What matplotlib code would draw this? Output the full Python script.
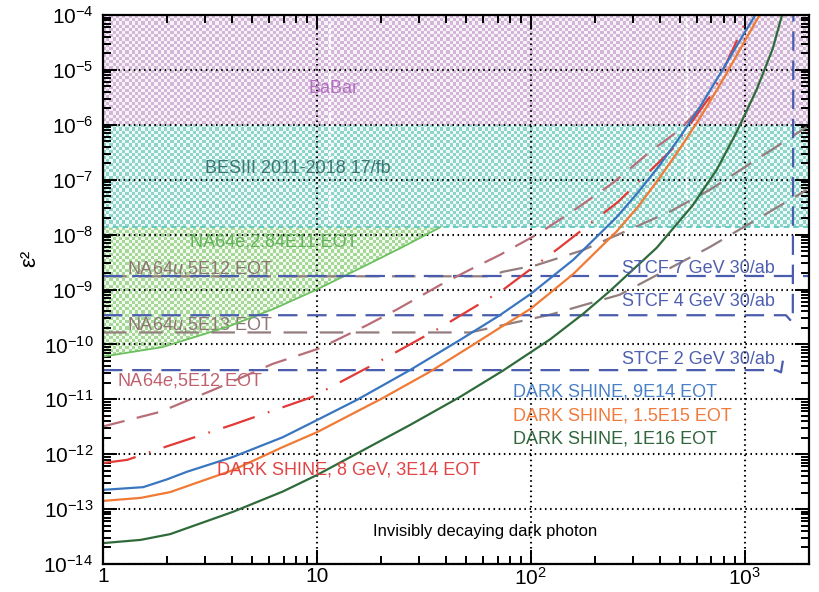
import numpy as np
import matplotlib
matplotlib.use("Agg")
import matplotlib.pyplot as plt
from matplotlib.patches import Polygon
from matplotlib.image import AxesImage
from matplotlib.colors import to_rgb
from matplotlib.ticker import LogLocator, NullFormatter, FixedLocator, FixedFormatter

plt.rcParams['font.family'] = ['Liberation Sans', 'DejaVu Sans']
plt.rcParams['mathtext.fontset'] = 'custom'
plt.rcParams['mathtext.rm'] = 'Liberation Sans'
plt.rcParams['mathtext.it'] = 'Liberation Sans:italic'
plt.rcParams['lines.scale_dashes'] = False

# ---------------- data (mass in MeV, epsilon^2) ----------------
x_min, x_max = 1, 2000
y_min, y_max = 1e-14, 1e-4

babar_lo, babar_hi = 1e-6, 1e-4
besiii_lo, besiii_hi = 1.35e-8, 1e-6
white_stripe_x = [11.5, 540]

na64e_284_x = [1, 1.89, 3.84, 6.31, 10, 15.8, 25.1, 37.6]
na64e_284_y = [6.0e-11, 8.9e-11, 2.1e-10, 4.47e-10, 1.0e-9, 2.4e-9, 5.9e-9, 1.35e-8]

ds_9e14_x = [1, 1.54, 2.0, 2.47, 4.05, 6.93, 10, 15.4, 27.2, 46.6, 71.6, 100, 158, 251, 316, 398, 501,
             631, 794, 1000, 1122]
ds_9e14_y = [2.24e-13, 2.51e-13, 3.5e-13, 4.79e-13, 8.91e-13, 2.04e-12, 4.17e-12, 9.77e-12, 3.39e-11,
             1.20e-10, 3.39e-10, 8.32e-10, 3.47e-9, 2.04e-8, 5.75e-8, 1.78e-7, 6.17e-7, 2.40e-6,
             1.05e-5, 4.79e-5, 1e-4]

ds_15e15_x = [1, 1.5, 2.06, 4.05, 6.93, 10, 20.3, 33.7, 53.6, 71.6, 100, 158, 251, 316, 398, 501, 631,
              794, 1000, 1175]
ds_15e15_y = [1.41e-13, 1.6e-13, 2.04e-13, 5.13e-13, 1.35e-12, 2.51e-12, 1.05e-11, 3.16e-11, 9.77e-11,
              2.0e-10, 4.47e-10, 1.91e-9, 1.12e-8, 3.16e-8, 1.05e-7, 3.80e-7, 1.51e-6, 6.76e-6,
              3.31e-5, 1e-4]

ds_1e16_x = [1, 1.5, 2.06, 4.05, 6.93, 10, 27.2, 46.6, 74, 123, 175, 234, 388, 571, 740, 918, 1138,
             1352, 1496]
ds_1e16_y = [2.4e-14, 2.75e-14, 3.5e-14, 8.91e-14, 2.09e-13, 4.17e-13, 3.39e-12, 1.10e-11, 3.31e-11,
             1.23e-10, 3.55e-10, 9.33e-10, 5.75e-9, 3.39e-8, 1.51e-7, 7.41e-7, 4.37e-6, 2.40e-5, 1e-4]

ds_8gev_x = [1, 1.3, 2, 4, 9.5, 19, 37.6, 74, 137, 255, 456, 708, 1020, 1060]
ds_8gev_y = [6.9e-13, 7.9e-13, 1.4e-12, 3.4e-12, 1.1e-11, 4.6e-11, 2.0e-10, 9.8e-10, 5.9e-9, 3.9e-8,
             3.5e-7, 3.8e-6, 8.1e-5, 1e-4]

na64e_5e12_x = [1, 1.85, 3.3, 6.2, 10.3, 17, 23.6, 37.6, 52, 72, 110, 164, 242, 360, 497, 686]
na64e_5e12_y = [3.2e-12, 5.9e-12, 1.5e-11, 4.4e-11, 8.5e-11, 2.2e-10, 4.3e-10, 1.2e-9, 2.3e-9, 4.3e-9,
                1.07e-8, 3.0e-8, 8.7e-8, 3.2e-7, 8.1e-7, 3.1e-6]

na64mu_5e12_x = [1, 64, 74, 107, 175, 446, 616, 686, 1950]
na64mu_5e12_y = [1.74e-9, 1.74e-9, 2.1e-9, 2.8e-9, 5.2e-9, 2.6e-8, 5.2e-8, 6.5e-8, 9.1e-7]

na64mu_5e13_x = [1, 52, 124, 260, 686, 1950]
na64mu_5e13_y = [1.65e-10, 1.65e-10, 3.5e-10, 8.0e-10, 5.9e-9, 6.5e-8]

stcf7_x = [1, 2000]
stcf7_y = [1.74e-9, 1.74e-9]
stcf4_x = [1, 1560, 1660, 1680, 1690]
stcf4_y = [3.4e-10, 3.4e-10, 2.6e-10, 3.4e-10, 1e-4]
stcf2_x = [1, 1400, 1480, 1530]
stcf2_y = [3.4e-11, 3.4e-11, 3.1e-11, 7e-11]

x_ticks = [1, 10, 100, 1000]
x_ticklabels = ['1', '10', '$10^{2}$', '$10^{3}$']
y_ticks = [1e-14, 1e-13, 1e-12, 1e-11, 1e-10, 1e-9, 1e-8, 1e-7, 1e-6, 1e-5, 1e-4]
y_ticklabels = ['$10^{-%d}$' % k for k in range(14, 3, -1)]

# ---------------- figure ----------------
W, H = 819, 592
fig = plt.figure(figsize=(W / 100, H / 100), dpi=100)
ax = fig.add_axes([103 / W, 28 / H, 706 / W, 549 / H])
ax.set_xscale('log')
ax.set_yscale('log')
ax.set_autoscale_on(False)
ax.set_xlim(x_min, x_max)
ax.set_ylim(y_min, y_max)


def checker(px, py, c1, c2, cell=3.2, z=0.5):
    nx, ny = int(706 / cell), int(549 / cell)
    ii, jj = np.indices((ny, nx))
    m = (ii + jj) % 2 == 0
    img = np.empty((ny, nx, 3))
    img[m] = to_rgb(c1)
    img[~m] = to_rgb(c2)
    im = AxesImage(ax, interpolation='nearest', extent=(0, 1, 0, 1), zorder=z)
    im.set_data(img)
    im.set_transform(ax.transAxes)
    ax.add_image(im)
    poly = Polygon(np.column_stack([px, py]), closed=True, transform=ax.transData)
    im.set_clip_path(poly)


checker([x_min, x_max, x_max, x_min], [babar_lo, babar_lo, babar_hi, babar_hi], '#d2b6d8', '#f8f2f8')
checker([x_min, x_max, x_max, x_min], [besiii_lo, besiii_lo, besiii_hi, besiii_hi], '#8dd5ca', '#f0faf8')
checker(list(na64e_284_x) + [x_min], list(na64e_284_y) + [besiii_lo], '#a5d896', '#f3fbf0')

for xs in white_stripe_x:
    ax.plot([xs, xs], [besiii_lo, babar_hi], color='white', lw=1.6, dashes=(2.5, 1.5), zorder=0.8)

ax.plot([x_min, x_max], [besiii_lo, besiii_lo], color='#5fc8c0', lw=1.3, dashes=(4, 3), zorder=2)
ax.plot(na64e_284_x, na64e_284_y, color='#6cc060', lw=1.3, zorder=2)

# grid
ax.set_axisbelow('line')
ax.grid(True, which='major', color='black', linestyle=(0, (1.1, 2.6)), linewidth=1.5)

# curves
ax.plot(stcf7_x, stcf7_y, color='#4a5cae', lw=1.6, dashes=(14, 7), zorder=2.2)
ax.plot(stcf4_x, stcf4_y, color='#4a5cae', lw=1.6, dashes=(14, 7), zorder=2.2)
ax.plot(stcf2_x, stcf2_y, color='#4a5cae', lw=1.6, dashes=(14, 7), zorder=2.2)

ax.plot(na64mu_5e12_x, na64mu_5e12_y, color='#937d7d', lw=1.6, dashes=(17, 9), zorder=2.1)
ax.plot(na64mu_5e13_x, na64mu_5e13_y, color='#937d7d', lw=1.6, dashes=(17, 9), zorder=2.1)
ax.plot(na64e_5e12_x, na64e_5e12_y, color='#b86e78', lw=1.6, dashes=(16, 9), zorder=2.3)
ax.plot(ds_8gev_x, ds_8gev_y, color='#e23a36', lw=1.6, dashes=(24, 10, 1.2, 10), zorder=2.4)

ax.plot(ds_9e14_x, ds_9e14_y, color='#3a76c0', lw=1.6, zorder=2.5)
ax.plot(ds_15e15_x, ds_15e15_y, color='#f07a35', lw=1.6, zorder=2.5)
ax.plot(ds_1e16_x, ds_1e16_y, color='#2f6b3a', lw=1.6, zorder=2.5)

# labels
fs = 13
ax.text(11.9, 10 ** -5.33, 'BaBar', color='#b46fc2', fontsize=fs, ha='center', va='center', zorder=3)
ax.text(3.0, 10 ** -6.79, 'BESIII 2011-2018 17/fb', color='#3c7473', fontsize=fs, ha='left', va='center', zorder=3)
ax.text(2.55, 10 ** -8.13, 'NA64e,2.84E11 EOT', color='#62b25a', fontsize=fs, ha='left', va='center', zorder=3)
ax.text(1.29, 10 ** -8.61, 'NA64$u$,5E12 EOT', color='#8e7474', fontsize=fs, ha='left', va='center', zorder=3)
ax.text(1.29, 10 ** -9.63, 'NA64$u$,5E13 EOT', color='#8e7474', fontsize=fs, ha='left', va='center', zorder=1.8)
ax.text(1.16, 10 ** -10.65, 'NA64$e$,5E12 EOT', color='#c0616d', fontsize=fs, ha='left', va='center', zorder=3)
ax.text(266, 10 ** -8.61, 'STCF 7 GeV 30/ab', color='#4f5fb0', fontsize=fs, ha='left', va='center', zorder=3)
ax.text(266, 10 ** -9.21, 'STCF 4 GeV 30/ab', color='#4f5fb0', fontsize=fs, ha='left', va='center', zorder=3)
ax.text(266, 10 ** -10.28, 'STCF 2 GeV 30/ab', color='#4f5fb0', fontsize=fs, ha='left', va='center', zorder=3)
ax.text(83, 10 ** -10.87, 'DARK SHINE, 9E14 EOT', color='#4a80c8', fontsize=fs, ha='left', va='center', zorder=3)
ax.text(83, 10 ** -11.30, 'DARK SHINE, 1.5E15 EOT', color='#f07a3c', fontsize=fs, ha='left', va='center', zorder=3)
ax.text(83, 10 ** -11.72, 'DARK SHINE, 1E16 EOT', color='#30663c', fontsize=fs, ha='left', va='center', zorder=3)
ax.text(3.41, 10 ** -12.29, 'DARK SHINE, 8 GeV, 3E14 EOT', color='#e04444', fontsize=fs, ha='left', va='center', zorder=3)
ax.text(18.3, 10 ** -13.40, 'Invisibly decaying dark photon', color='black', fontsize=12, ha='left', va='center', zorder=3)

# axes styling
ax.xaxis.set_major_locator(FixedLocator(x_ticks))
ax.xaxis.set_major_formatter(FixedFormatter(x_ticklabels))
ax.yaxis.set_major_locator(FixedLocator(y_ticks))
ax.yaxis.set_major_formatter(FixedFormatter(y_ticklabels))
ax.xaxis.set_minor_locator(LogLocator(base=10, subs=np.arange(2, 10), numticks=100))
ax.yaxis.set_minor_locator(LogLocator(base=10, subs=np.arange(2, 10), numticks=100))
ax.xaxis.set_minor_formatter(NullFormatter())
ax.yaxis.set_minor_formatter(NullFormatter())
ax.tick_params(which='both', direction='in', top=True, right=True, width=1.4, colors='black')
ax.tick_params(which='major', length=10, labelsize=15)
ax.tick_params(axis='y', which='major', pad=7)
ax.tick_params(axis='x', which='major', pad=2)
ax.tick_params(which='minor', length=6)
for s in ax.spines.values():
    s.set_linewidth(1.6)
    s.set_zorder(4)

fig.text(30 / W, 1 - 258 / H, 'ε²', rotation=90, ha='center', va='center', fontsize=16)

fig.savefig('out.png', dpi=100)
